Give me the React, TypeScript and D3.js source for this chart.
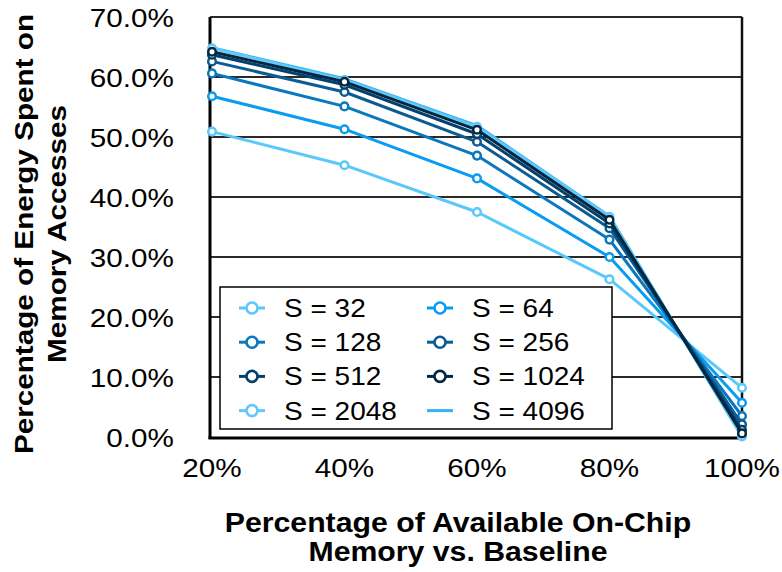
import { useEffect, useRef } from 'react'
import * as d3 from 'd3'

const memoryPct = [20, 40, 60, 80, 100]
const xTickLabels = ['20%', '40%', '60%', '80%', '100%']
const yTicks = [0, 10, 20, 30, 40, 50, 60, 70]

const s32 = [50.9, 45.3, 37.5, 26.3, 8.2]
const s64 = [56.8, 51.3, 43.1, 30.0, 5.7]
const s128 = [60.6, 55.1, 46.9, 32.9, 3.5]
const s256 = [62.6, 57.5, 49.2, 34.8, 2.1]
const s512 = [63.7, 58.7, 50.5, 35.6, 1.2]
const s1024 = [64.2, 59.2, 51.2, 36.2, 0.6]
const s2048 = [64.8, 59.5, 51.7, 36.7, 0.1]
const s4096 = [64.9, 59.7, 51.9, 36.8, 0.1]

const seriesNames = ['S = 32', 'S = 64', 'S = 128', 'S = 256', 'S = 512', 'S = 1024', 'S = 2048', 'S = 4096']
const seriesValues = [s32, s64, s128, s256, s512, s1024, s2048, s4096]
const seriesColors = ['#5ac8fa', '#0a9cf2', '#0a78be', '#0b5c92', '#05406d', '#022743', '#62c9f8', '#35b2f3']
const seriesMarker = [true, true, true, true, true, true, true, false]
// light ones sit underneath the dark cluster
const drawOrder = [7, 6, 0, 1, 2, 3, 4, 5]

const FONT = 'Liberation Sans, Arial, Helvetica, sans-serif'
const SX = 1.12

export default function App() {
  const svgRef = useRef<SVGSVGElement>(null)

  useEffect(() => {
    if (!svgRef.current) return
    const svg = d3.select(svgRef.current)
    svg.selectAll('*').remove()

    const left = 210, right = 742, top = 17, bottom = 437

    const xScale = d3.scalePoint<number>().domain(memoryPct).range([212, right])
    const yScale = d3.scaleLinear().domain([0, 70]).range([bottom, top])

    const label = (x: number, y: number, t: string, size: number, anchor: string, bold = false, rot = 0) =>
      svg.append('text')
        .attr('transform', `translate(${x},${y}) rotate(${rot}) scale(${SX},1)`)
        .attr('text-anchor', anchor)
        .attr('fill', '#000')
        .style('font-family', FONT)
        .style('font-size', `${size}px`)
        .style('font-weight', bold ? 'bold' : 'normal')
        .text(t)

    // gridlines
    svg.append('g')
      .selectAll('line')
      .data(yTicks.slice(1))
      .join('line')
      .attr('x1', left)
      .attr('x2', right)
      .attr('y1', d => yScale(d))
      .attr('y2', d => yScale(d))
      .attr('stroke', '#2a2a2a')
      .attr('stroke-width', 1.8)

    // frame
    svg.append('line').attr('x1', right).attr('x2', right).attr('y1', top).attr('y2', bottom + 1)
      .attr('stroke', '#111').attr('stroke-width', 2.5)
    svg.append('line').attr('x1', left).attr('x2', left).attr('y1', top).attr('y2', bottom + 2)
      .attr('stroke', '#000').attr('stroke-width', 3)
    svg.append('line').attr('x1', left - 1.5).attr('x2', right + 1.2).attr('y1', bottom + 1).attr('y2', bottom + 1)
      .attr('stroke', '#000').attr('stroke-width', 3)

    // tick labels
    yTicks.forEach(v => label(174, yScale(v) + 9.5, `${v.toFixed(1)}%`, 26.5, 'end'))
    memoryPct.forEach((v, i) => label(xScale(v)!, 477, xTickLabels[i], 26.5, 'middle'))

    // axis titles
    label(458, 532, 'Percentage of Available On-Chip', 27, 'middle', true)
    label(458, 561, 'Memory vs. Baseline', 27, 'middle', true)
    label(33, 234, 'Percentage of Energy Spent on', 26.5, 'middle', true, -90)
    label(66, 234, 'Memory Accesses', 26.5, 'middle', true, -90)

    const line = d3.line<number>()
      .x((_, i) => xScale(memoryPct[i])!)
      .y(d => yScale(d))

    drawOrder.forEach(si => {
      const g = svg.append('g')
      g.append('path')
        .datum(seriesValues[si])
        .attr('fill', 'none')
        .attr('stroke', seriesColors[si])
        .attr('stroke-width', 3)
        .attr('stroke-linejoin', 'round')
        .attr('d', line)
      if (seriesMarker[si]) {
        g.selectAll('circle')
          .data(seriesValues[si])
          .join('circle')
          .attr('cx', (_, i) => xScale(memoryPct[i])!)
          .attr('cy', d => yScale(d))
          .attr('r', 3.8)
          .attr('fill', '#fff')
          .attr('stroke', seriesColors[si])
          .attr('stroke-width', 2.5)
      }
    })

    // legend
    const legend = svg.append('g')
    legend.append('rect')
      .attr('x', 220)
      .attr('y', 287)
      .attr('width', 392)
      .attr('height', 142)
      .attr('fill', '#fff')
      .attr('stroke', '#000')
      .attr('stroke-width', 1.5)

    seriesNames.forEach((name, i) => {
      const col = i % 2
      const row = Math.floor(i / 2)
      const cx = col === 0 ? 252 : 440
      const cy = 308 + row * 34.2
      legend.append('line')
        .attr('x1', cx - 13)
        .attr('x2', cx + 13)
        .attr('y1', cy)
        .attr('y2', cy)
        .attr('stroke', seriesColors[i])
        .attr('stroke-width', 3)
      if (seriesMarker[i]) {
        legend.append('circle')
          .attr('cx', cx)
          .attr('cy', cy)
          .attr('r', 5.5)
          .attr('fill', '#fff')
          .attr('stroke', seriesColors[i])
          .attr('stroke-width', 2.6)
      }
      label(col === 0 ? 284 : 472, cy + 9, name, 25, 'start')
    })
  }, [])

  return (
    <svg
      ref={svgRef}
      width={782}
      height={572}
      style={{ position: 'absolute', left: 0, top: 0, background: '#fff' }}
    />
  )
}
